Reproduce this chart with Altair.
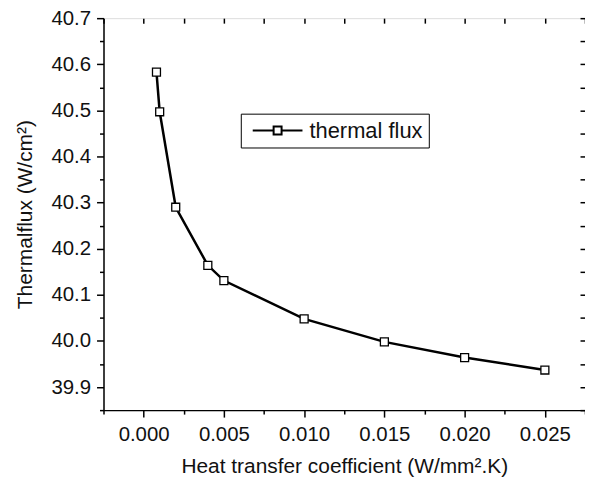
import altair as alt
import pandas as pd

# data
h_coef = [0.0008, 0.001, 0.002, 0.004, 0.005, 0.010, 0.015, 0.020, 0.025]
flux = [40.583, 40.497, 40.290, 40.164, 40.131, 40.048, 39.998, 39.964, 39.937]
series_name = ["thermal flux"]

x_major = [0.000, 0.005, 0.010, 0.015, 0.020, 0.025]
x_minor = [-0.0025, 0.0025, 0.0075, 0.0125, 0.0175, 0.0225, 0.0275]
y_major = [39.9, 40.0, 40.1, 40.2, 40.3, 40.4, 40.5, 40.6, 40.7]
y_minor = [39.85, 39.95, 40.05, 40.15, 40.25, 40.35, 40.45, 40.55, 40.65]

df = pd.DataFrame({"h": h_coef, "q": flux, "series": series_name * len(h_coef)})

FONT = "Liberation Sans"
FS = 20.5
TFS = 21

x_vals = sorted(x_major + x_minor)
y_vals = sorted(y_major + y_minor)

x_major_test = "abs(datum.value*200 - round(datum.value*200)) < 0.001"
y_major_test = "abs(datum.value*10 - round(datum.value*10)) < 0.001"

x_scale = alt.Scale(domain=[-0.0025, 0.0275], nice=False, zero=False)
y_scale = alt.Scale(domain=[39.85, 40.7], nice=False, zero=False)

x_axis_bottom = alt.Axis(
    title="Heat transfer coefficient (W/mm².K)",
    values=x_vals,
    labelExpr=f"({x_major_test}) ? format(datum.value, '.3f') : ''",
    labelOverlap=False,
    tickSize={"condition": {"test": x_major_test, "value": 7}, "value": 4},
    tickColor="black", tickWidth=1.5, domainColor="black", domainWidth=1.5,
    grid=False, labelFont=FONT, labelFontSize=FS, labelColor="#111",
    labelPadding=8, titleFont=FONT, titleFontSize=TFS, titleFontWeight="normal",
    titleColor="#111", titlePadding=10,
)
y_axis_left = alt.Axis(
    title="Thermalflux (W/cm²)",
    values=y_vals,
    labelExpr=f"({y_major_test}) ? format(datum.value, '.1f') : ''",
    labelOverlap=False,
    tickSize={"condition": {"test": y_major_test, "value": 7}, "value": 4},
    tickColor="black", tickWidth=1.5, domainColor="black", domainWidth=1.5,
    grid=False, labelFont=FONT, labelFontSize=FS, labelColor="#111",
    labelPadding=6, titleFont=FONT, titleFontSize=TFS, titleFontWeight="normal",
    titleColor="#111", titlePadding=15,
)
x_axis_top = alt.Axis(
    orient="top", title=None, values=x_vals, labels=False, domain=False,
    grid=False, tickSize=5, offset=-5, tickColor="black", tickWidth=1.5,
)
y_axis_right = alt.Axis(
    orient="right", title=None, values=y_vals, labels=False, domain=False,
    grid=False, tickSize=5, offset=-5, tickColor="black", tickWidth=1.5,
)

legend_path = "M-2.5,0H-0.4M0.4,0H2.5M-0.4,-0.4H0.4V0.4H-0.4Z"

line = alt.Chart(df).mark_line(strokeWidth=2.5, color="black").encode(
    x=alt.X("h:Q", scale=x_scale, axis=x_axis_bottom),
    y=alt.Y("q:Q", scale=y_scale, axis=y_axis_left),
    color=alt.Color(
        "series:N",
        scale=alt.Scale(domain=series_name, range=["black"]),
        legend=alt.Legend(
            title=None, orient="none", legendX=138, legendY=96,
            symbolType=legend_path, symbolSize=400, symbolStrokeWidth=2,
            symbolFillColor="white", symbolStrokeColor="black",
            symbolOffset=20, labelOffset=21,
            labelFont=FONT, labelFontSize=22, labelColor="#111",
            strokeColor="black", fillColor="white", padding=6,
            cornerRadius=0,
        ),
    ),
)

points = alt.Chart(df).mark_point(
    shape="square", filled=True, fill="white", stroke="black",
    strokeWidth=1.3, size=64, opacity=1,
).encode(
    x=alt.X("h:Q", scale=x_scale, axis=x_axis_top),
    y=alt.Y("q:Q", scale=y_scale, axis=y_axis_right),
)

chart = (
    alt.layer(line, points)
    .resolve_axis(x="independent", y="independent")
    .properties(
        width=484, height=394,
        autosize=alt.AutoSizeParams(type="none"),
        padding={"left": 96, "top": 9, "right": 0, "bottom": 66},
    )
    .configure_view(stroke="black", strokeWidth=1.5)
    .configure(background="white")
)

chart.save("out.html", embed_options={"renderer": "svg", "actions": False})
